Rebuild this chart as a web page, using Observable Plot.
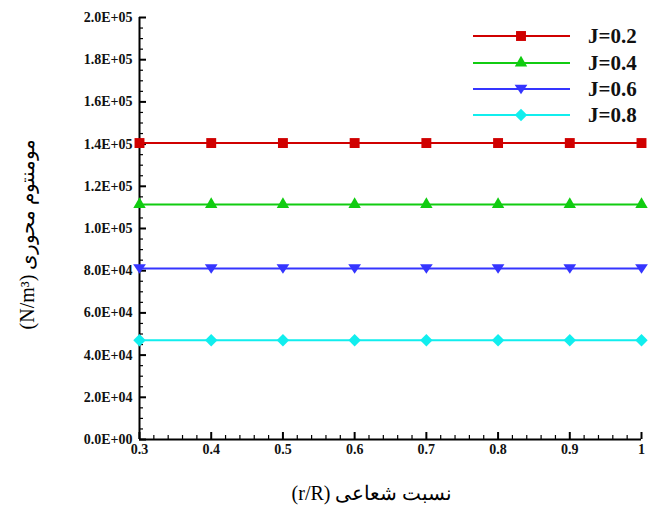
<!DOCTYPE html>
<html>
<head>
<meta charset="utf-8">
<script src="https://cdn.jsdelivr.net/npm/d3@7"></script>
<script src="https://cdn.jsdelivr.net/npm/@observablehq/plot@0.6"></script>
<style>
  html, body { margin: 0; padding: 0; background: #fff; }
  #chart { width: 654px; height: 506px; }
</style>
</head>
<body>
<div id="chart"></div>
<script>
// ---- data ----
const rR = [0.3, 0.4, 0.5, 0.6, 0.7, 0.8, 0.9, 1.0];
const seriesNames = ["J=0.2", "J=0.4", "J=0.6", "J=0.8"];
const valsJ02 = [140500, 140500, 140500, 140500, 140500, 140500, 140500, 140500];
const valsJ04 = [111400, 111400, 111400, 111400, 111400, 111400, 111400, 111400];
const valsJ06 = [81000, 81000, 81000, 81000, 81000, 81000, 81000, 81000];
const valsJ08 = [47000, 47000, 47000, 47000, 47000, 47000, 47000, 47000];
const yTicks = [0, 20000, 40000, 60000, 80000, 100000, 120000, 140000, 160000, 180000, 200000];
const xTicks = [0.3, 0.4, 0.5, 0.6, 0.7, 0.8, 0.9, 1.0];
const xTitle = "نسبت شعاعی (r/R)";
const yTitle = "مومنتوم محوری (N/m³)";

// ---- styles ----
const colors = ["#d00000", "#11cc11", "#3535ff", "#11eeee"];
const triDown = {
  draw(ctx, size) {
    const s = Math.sqrt(size);
    const w = s * 0.62, h = s * 0.5;
    ctx.moveTo(0, h);
    ctx.lineTo(w, -h * 0.85);
    ctx.lineTo(-w, -h * 0.85);
    ctx.closePath();
  }
};
const symbols = ["square", "triangle", triDown, "diamond2"];
const radii = [5.6, 4.6, 5.8, 5.6];
const allVals = [valsJ02, valsJ04, valsJ06, valsJ08];

const data = [];
allVals.forEach((vals, i) => vals.forEach((v, j) => data.push({series: seriesNames[i], x: rR[j], y: v, i})));

const fmtY = d => {
  if (d === 0) return "0.0E+00";
  const e = Math.floor(Math.log10(d) + 1e-9);
  const m = d / Math.pow(10, e);
  return m.toFixed(1) + "E+" + String(e).padStart(2, "0");
};
const fmtX = d => d === 1 ? "1" : d.toFixed(1);
const yMinor = d3.range(0, 200001, 5000).filter(v => v % 20000 !== 0);
const xMinor = d3.range(30, 101, 2).map(v => v / 100).filter(v => Math.round(v * 100) % 10 !== 0);

const font = "'Liberation Serif', 'Times New Roman', serif";

const marks = [];
// axis lines
marks.push(Plot.ruleX([0.3], {stroke: "#000", strokeWidth: 2}));
marks.push(Plot.ruleY([0], {stroke: "#000", strokeWidth: 2}));
// minor ticks
marks.push(Plot.axisY({ticks: yMinor, tickSize: -4, text: null, strokeWidth: 1.2, label: null}));
marks.push(Plot.axisX({ticks: xMinor, tickSize: -4, text: null, strokeWidth: 1.2, label: null}));
// major ticks + labels
marks.push(Plot.axisY({ticks: yTicks, tickSize: -7, tickPadding: 14, tickFormat: fmtY, strokeWidth: 2,
  fontWeight: "bold", fontSize: 14, fill: "#111", label: null}));
marks.push(Plot.axisX({ticks: xTicks, tickSize: -7, tickPadding: 12, tickFormat: fmtX, strokeWidth: 2,
  fontWeight: "bold", fontSize: 14, fill: "#111", label: null}));
// series
allVals.forEach((vals, i) => {
  const d = data.filter(r => r.i === i);
  marks.push(Plot.line(d, {x: "x", y: "y", stroke: colors[i], strokeWidth: 2}));
  marks.push(Plot.dot(d, {x: "x", y: "y", symbol: symbols[i], fill: colors[i], r: radii[i], stroke: "none"}));
});

const chart = Plot.plot({
  width: 654,
  height: 506,
  marginLeft: 139,
  marginRight: 13,
  marginTop: 17,
  marginBottom: 67,
  style: {fontFamily: font, background: "#fff", overflow: "visible"},
  x: {domain: [0.3, 1.0], axis: null},
  y: {domain: [0, 200000], axis: null},
  marks
});

const svg = d3.select(chart);
// axis titles
svg.append("text")
  .attr("x", 372).attr("y", 500)
  .attr("direction", "rtl")
  .attr("text-anchor", "middle")
  .attr("font-family", font)
  .attr("font-size", 20)
  .attr("fill", "#000")
  .text(xTitle);
svg.append("text")
  .attr("transform", "translate(34,234) rotate(-90)")
  .attr("direction", "rtl")
  .attr("text-anchor", "middle")
  .attr("font-family", font)
  .attr("font-size", 20)
  .attr("fill", "#000")
  .text(yTitle);

// legend
const lg = svg.append("g");
const rowY = [36, 63, 89, 115];
seriesNames.forEach((name, i) => {
  const y = rowY[i];
  lg.append("line").attr("x1", 473).attr("x2", 570).attr("y1", y).attr("y2", y)
    .attr("stroke", colors[i]).attr("stroke-width", 2);
  const sym = typeof symbols[i] === "string"
    ? {square: d3.symbolSquare, triangle: d3.symbolTriangle, diamond2: d3.symbolDiamond2}[symbols[i]]
    : symbols[i];
  lg.append("path")
    .attr("transform", `translate(521,${y})`)
    .attr("d", d3.symbol(sym, Math.PI * radii[i] * radii[i])())
    .attr("fill", colors[i]);
  lg.append("text").attr("x", 588).attr("y", y).attr("dy", "0.35em")
    .attr("text-anchor", "start")
    .attr("font-family", font).attr("font-weight", "bold").attr("font-size", 21)
    .attr("fill", "#111").text(name);
});

document.getElementById("chart").appendChild(chart);
</script>
</body>
</html>
